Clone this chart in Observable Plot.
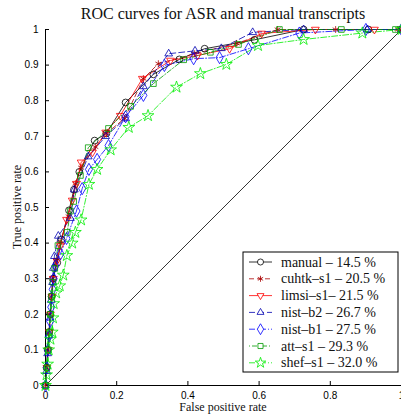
<!DOCTYPE html>
<html><head><meta charset="utf-8">
<script src="https://cdn.jsdelivr.net/npm/d3@7"></script>
<script src="https://cdn.jsdelivr.net/npm/@observablehq/plot@0.6"></script>
<style>body{margin:0;background:#fff}</style>
</head><body><div id="chart"></div>
<script>
const seriesNames = ["manual – 14.5 %","cuhtk–s1 – 20.5 %","limsi–s1– 21.5 %","nist–b2 – 26.7 %","nist–b1 – 27.5 %","att–s1 – 29.3 %","shef–s1 – 32.0 %"];
const manualFPR = [0,0.003,0.006,0.01,0.013,0.017,0.021,0.033,0.045,0.066,0.08,0.095,0.138,0.171,0.225,0.303,0.376,0.447,0.587,0.725,0.907,1];
const manualTPR = [0,0.05,0.1,0.15,0.2,0.25,0.3,0.345,0.41,0.492,0.55,0.6,0.688,0.708,0.795,0.874,0.916,0.946,0.971,1,1,1];
const cuhtkFPR = [0,0.003,0.007,0.01,0.013,0.017,0.02,0.03,0.04,0.065,0.084,0.1,0.14,0.171,0.222,0.275,0.317,0.419,0.537,0.652,0.815,0.99,1];
const cuhtkTPR = [0,0.05,0.1,0.15,0.2,0.25,0.3,0.35,0.4,0.475,0.567,0.612,0.67,0.708,0.75,0.862,0.904,0.932,0.961,1,1,1,1];
const limsiFPR = [0,0.004,0.008,0.011,0.014,0.018,0.022,0.032,0.042,0.059,0.075,0.087,0.1,0.132,0.169,0.21,0.272,0.351,0.427,0.517,0.607,0.758,0.924,1];
const limsiTPR = [0,0.05,0.1,0.15,0.2,0.25,0.3,0.35,0.393,0.466,0.52,0.567,0.627,0.655,0.711,0.758,0.862,0.913,0.927,0.946,0.989,1,1,1];
const nistb2FPR = [0,0.003,0.006,0.01,0.013,0.016,0.02,0.022,0.025,0.036,0.07,0.081,0.12,0.169,0.225,0.275,0.346,0.42,0.494,0.582,0.725,0.904,1];
const nistb2TPR = [0,0.04,0.09,0.14,0.19,0.24,0.29,0.33,0.363,0.42,0.47,0.55,0.643,0.7,0.75,0.84,0.932,0.94,0.947,0.992,1,1,1];
const nistb1FPR = [0,0.004,0.007,0.01,0.013,0.016,0.02,0.023,0.028,0.042,0.059,0.087,0.103,0.122,0.145,0.177,0.225,0.275,0.334,0.416,0.489,0.57,0.713,0.9,1];
const nistb1TPR = [0,0.05,0.1,0.14,0.18,0.22,0.27,0.3,0.336,0.37,0.413,0.49,0.553,0.607,0.635,0.674,0.755,0.815,0.899,0.918,0.921,0.946,0.99,1,1];
const attFPR = [0,0.004,0.008,0.011,0.014,0.017,0.021,0.026,0.035,0.061,0.07,0.079,0.098,0.12,0.177,0.239,0.303,0.388,0.463,0.542,0.657,0.831,0.983,1];
const attTPR = [0,0.05,0.1,0.15,0.2,0.25,0.29,0.329,0.393,0.43,0.49,0.517,0.59,0.668,0.722,0.784,0.848,0.915,0.936,0.958,1,1,1,1];
const shefFPR = [0,0.003,0.006,0.009,0.014,0.019,0.021,0.023,0.03,0.04,0.05,0.06,0.075,0.084,0.1,0.122,0.145,0.183,0.234,0.288,0.368,0.435,0.508,0.597,0.725,0.89,1];
const shefTPR = [0,0.03,0.06,0.1,0.13,0.15,0.19,0.23,0.26,0.28,0.31,0.365,0.4,0.43,0.465,0.565,0.607,0.662,0.725,0.758,0.838,0.876,0.902,0.955,0.972,0.99,1];
const diagX = [0,1], diagY = [0,1];
const xTicks = [0,0.2,0.4,0.6,0.8,1];
const yTicks = [0,0.1,0.2,0.3,0.4,0.5,0.6,0.7,0.8,0.9,1];

const styles = [
  {fpr: manualFPR, tpr: manualTPR, color: "#000000", dash: null, sym: d3.symbolCircle, r: 3.4, rot: 0},
  {fpr: cuhtkFPR, tpr: cuhtkTPR, color: "#a80000", dash: "5,3", sym: d3.symbolAsterisk, r: 3.2, rot: 0},
  {fpr: limsiFPR, tpr: limsiTPR, color: "#ff0000", dash: null, sym: d3.symbolTriangle2, r: 3.7, rot: 180},
  {fpr: nistb2FPR, tpr: nistb2TPR, color: "#0000b0", dash: "6,3", sym: d3.symbolTriangle2, r: 3.7, rot: 0},
  {fpr: nistb1FPR, tpr: nistb1TPR, color: "#0000ff", dash: "6,2,1,2", sym: d3.symbolDiamond, r: 3.7, rot: 0},
  {fpr: attFPR, tpr: attTPR, color: "#009a00", dash: "1,2,5,2", sym: d3.symbolSquare, r: 3.2, rot: 0},
  {fpr: shefFPR, tpr: shefTPR, color: "#00ee00", dash: "6,2,1,2", sym: d3.symbolStar, r: 3.7, rot: 0}
];

const marks = [
  Plot.ruleX([0], {stroke: "black", strokeWidth: 1}),
  Plot.ruleY([0], {stroke: "black", strokeWidth: 1}),
  Plot.line(diagX.map((d,i)=>({x:d,y:diagY[i]})), {x:"x", y:"y", stroke:"black", strokeWidth: 0.8}),
  Plot.axisX({ticks: xTicks, tickSize: -4, tickPadding: 10, tickFormat: d => (d===0||d===1) ? String(d) : d.toFixed(1), label: null}),
  Plot.axisY({ticks: yTicks, tickSize: -4, tickPadding: 11, tickFormat: d => (d===0||d===1) ? String(d) : d.toFixed(1), label: null})
];
styles.forEach((s) => {
  const data = s.fpr.map((x,i)=>({x, y: s.tpr[i]}));
  marks.push(Plot.line(data, {x:"x", y:"y", stroke: s.color, strokeWidth: 0.8, strokeDasharray: s.dash || undefined}));
});
styles.forEach((s) => {
  const data = s.fpr.map((x,i)=>({x, y: s.tpr[i]}));
  marks.push(Plot.dot(data, {x:"x", y:"y", symbol: s.sym, r: s.r, stroke: s.color, fill: "none", strokeWidth: 0.8, rotate: s.rot}));
});

const chart = Plot.plot({
  width: 401, height: 416,
  marginLeft: 45, marginRight: 0, marginTop: 29, marginBottom: 31,
  x: {domain: [0,1]},
  y: {domain: [0,1]},
  style: {fontFamily: "'Liberation Sans', Arial, sans-serif", fontSize: "10px", background: "white", overflow: "hidden"},
  marks
});
document.getElementById("chart").appendChild(chart);

const svg = d3.select(chart);
const serif = "'Liberation Serif', 'Times New Roman', serif";
svg.append("text").attr("x", 223).attr("y", 19).attr("text-anchor", "middle")
  .style("font-family", serif).style("font-size", "16px").attr("fill", "#111").text("ROC curves for ASR and manual transcripts");
svg.append("text").attr("x", 223).attr("y", 411).attr("text-anchor", "middle")
  .style("font-family", serif).style("font-size", "12px").attr("fill", "#111").text("False positive rate");
svg.append("text").attr("transform", "translate(21,207) rotate(-90)").attr("text-anchor", "middle")
  .style("font-family", serif).style("font-size", "12px").attr("fill", "#111").text("True positive rate");

const lg = svg.append("g");
lg.append("rect").attr("x", 243).attr("y", 252).attr("width", 155).attr("height", 120)
  .attr("fill", "white").attr("stroke", "black").attr("stroke-width", 1);
styles.forEach((s, k) => {
  const cy = 262 + k * 16.8;
  lg.append("line").attr("x1", 249).attr("x2", 272).attr("y1", cy).attr("y2", cy)
    .attr("stroke", s.color).attr("stroke-width", 0.8).attr("stroke-dasharray", s.dash || null);
  lg.append("path").attr("d", d3.symbol(s.sym, Math.PI * s.r * s.r * 0.8)())
    .attr("transform", `translate(260.5,${cy}) rotate(${s.rot})`)
    .attr("fill", "white").attr("stroke", s.color).attr("stroke-width", 0.8);
  lg.append("text").attr("x", 281).attr("y", cy + 4.5).attr("text-anchor", "start")
    .style("font-family", serif).style("font-size", "14px").attr("fill", "#111").text(seriesNames[k]);
});
</script></body></html>
